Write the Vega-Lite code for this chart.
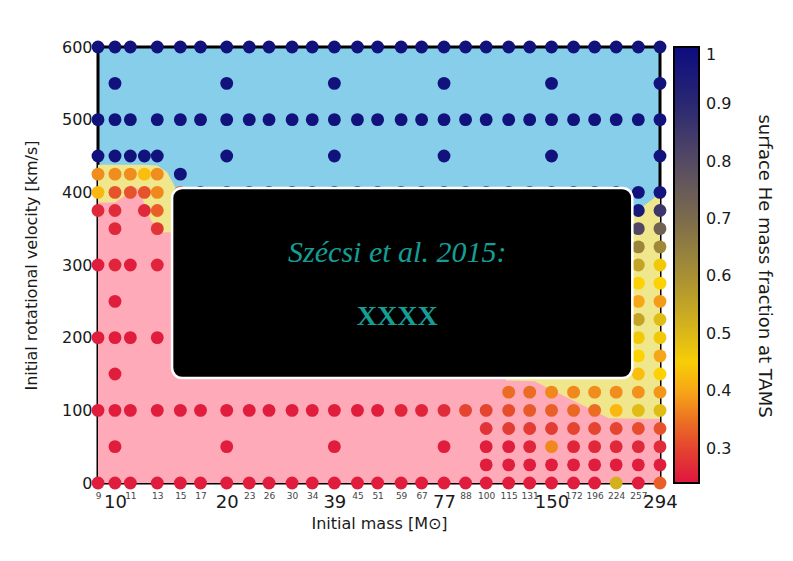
{
  "$schema": "https://vega.github.io/schema/vega-lite/v6.json",
  "width": 562,
  "height": 436,
  "autosize": {"type": "none"},
  "padding": {"left": 98, "top": 47, "right": 133, "bottom": 78},
  "background": "white",
  "config": {
    "font": "DejaVu Sans",
    "view": {"fill": "#87ceeb", "stroke": "black", "strokeWidth": 3},
    "axis": {"domain": false, "ticks": false, "grid": false, "labelColor": "#1a1a1a", "titleColor": "#1a1a1a", "titleFontWeight": "normal", "labelFont": "DejaVu Sans", "titleFont": "DejaVu Sans"},
    "legend": {"labelFont": "DejaVu Sans", "titleFont": "DejaVu Sans", "labelColor": "#1a1a1a", "titleColor": "#1a1a1a"}
  },
  "datasets": {
    "yellow": [
      {"region": "left", "m": 9, "v": 438}, {"region": "left", "m": 12, "v": 438}, {"region": "left", "m": 13, "v": 437},
      {"region": "left", "m": 13.8, "v": 428}, {"region": "left", "m": 14.3, "v": 414}, {"region": "left", "m": 14.6, "v": 405},
      {"region": "left", "m": 15.5, "v": 380}, {"region": "left", "m": 16, "v": 330},
      {"region": "right", "m": 100, "v": 200}, {"region": "right", "m": 200, "v": 330}, {"region": "right", "m": 249, "v": 371}, {"region": "right", "m": 294, "v": 398}
    ],
    "pink": [
      {"m": 9, "v": 386}, {"m": 10, "v": 386}, {"m": 10.6, "v": 395}, {"m": 11, "v": 410}, {"m": 11.5, "v": 405},
      {"m": 12, "v": 385}, {"m": 12.5, "v": 362}, {"m": 13, "v": 350}, {"m": 13.5, "v": 345}, {"m": 14.2, "v": 345},
      {"m": 15, "v": 300}, {"m": 100, "v": 300}, {"m": 110, "v": 200}, {"m": 113, "v": 141}, {"m": 135, "v": 140},
      {"m": 214, "v": 89}, {"m": 294, "v": 88}
    ],
    "box": [{"m": 14.25, "m2": 247.6, "v": 406, "v2": 144.5}],
    "t1": [{"m": 57.6, "v": 316.5, "t": "Szécsi et al. 2015:"}],
    "t2": [{"m": 57.6, "v": 228.4, "t": "XXXX"}],
    "pts": [
      {"m": 9, "v": 600, "he": 0.98}, {"m": 10, "v": 600, "he": 0.98}, {"m": 11, "v": 600, "he": 0.98}, {"m": 13, "v": 600, "he": 0.98},
      {"m": 15, "v": 600, "he": 0.98}, {"m": 17, "v": 600, "he": 0.98}, {"m": 20, "v": 600, "he": 0.98}, {"m": 23, "v": 600, "he": 0.98},
      {"m": 26, "v": 600, "he": 0.98}, {"m": 30, "v": 600, "he": 0.98}, {"m": 34, "v": 600, "he": 0.98}, {"m": 39, "v": 600, "he": 0.98},
      {"m": 45, "v": 600, "he": 0.98}, {"m": 51, "v": 600, "he": 0.98}, {"m": 59, "v": 600, "he": 0.98}, {"m": 67, "v": 600, "he": 0.98},
      {"m": 77, "v": 600, "he": 0.98}, {"m": 88, "v": 600, "he": 0.98}, {"m": 100, "v": 600, "he": 0.98}, {"m": 115, "v": 600, "he": 0.98},
      {"m": 131, "v": 600, "he": 0.98}, {"m": 150, "v": 600, "he": 0.98}, {"m": 172, "v": 600, "he": 0.98}, {"m": 196, "v": 600, "he": 0.98},
      {"m": 224, "v": 600, "he": 0.98}, {"m": 257, "v": 600, "he": 0.98}, {"m": 294, "v": 600, "he": 0.98},

      {"m": 10, "v": 550, "he": 0.98}, {"m": 20, "v": 550, "he": 0.98}, {"m": 39, "v": 550, "he": 0.98}, {"m": 77, "v": 550, "he": 0.98},
      {"m": 150, "v": 550, "he": 0.98}, {"m": 294, "v": 550, "he": 0.98},

      {"m": 9, "v": 500, "he": 0.98}, {"m": 10, "v": 500, "he": 0.98}, {"m": 11, "v": 500, "he": 0.98}, {"m": 13, "v": 500, "he": 0.98},
      {"m": 15, "v": 500, "he": 0.98}, {"m": 17, "v": 500, "he": 0.98}, {"m": 20, "v": 500, "he": 0.98}, {"m": 23, "v": 500, "he": 0.98},
      {"m": 26, "v": 500, "he": 0.98}, {"m": 30, "v": 500, "he": 0.98}, {"m": 34, "v": 500, "he": 0.98}, {"m": 39, "v": 500, "he": 0.98},
      {"m": 45, "v": 500, "he": 0.98}, {"m": 51, "v": 500, "he": 0.98}, {"m": 59, "v": 500, "he": 0.98}, {"m": 67, "v": 500, "he": 0.98},
      {"m": 77, "v": 500, "he": 0.98}, {"m": 88, "v": 500, "he": 0.98}, {"m": 100, "v": 500, "he": 0.98}, {"m": 115, "v": 500, "he": 0.98},
      {"m": 131, "v": 500, "he": 0.98}, {"m": 150, "v": 500, "he": 0.98}, {"m": 172, "v": 500, "he": 0.98}, {"m": 196, "v": 500, "he": 0.98},
      {"m": 224, "v": 500, "he": 0.98}, {"m": 257, "v": 500, "he": 0.98}, {"m": 294, "v": 500, "he": 0.98},

      {"m": 9, "v": 450, "he": 0.98}, {"m": 10, "v": 450, "he": 0.98}, {"m": 11, "v": 450, "he": 0.98}, {"m": 12, "v": 450, "he": 0.98},
      {"m": 13, "v": 450, "he": 0.98}, {"m": 20, "v": 450, "he": 0.98}, {"m": 39, "v": 450, "he": 0.98}, {"m": 77, "v": 450, "he": 0.98},
      {"m": 150, "v": 450, "he": 0.98}, {"m": 294, "v": 450, "he": 0.98},

      {"m": 9, "v": 425, "he": 0.375}, {"m": 10, "v": 425, "he": 0.375}, {"m": 11, "v": 425, "he": 0.375}, {"m": 12, "v": 425, "he": 0.42},
      {"m": 13, "v": 425, "he": 0.375}, {"m": 15, "v": 425, "he": 0.98},

      {"m": 9, "v": 400, "he": 0.415}, {"m": 10, "v": 400, "he": 0.315}, {"m": 11, "v": 400, "he": 0.315}, {"m": 12, "v": 400, "he": 0.315},
      {"m": 13, "v": 400, "he": 0.37}, {"m": 15, "v": 400, "he": 0.33}, {"m": 17, "v": 400, "he": 0.98}, {"m": 20, "v": 400, "he": 0.98},
      {"m": 23, "v": 400, "he": 0.98}, {"m": 26, "v": 400, "he": 0.98}, {"m": 30, "v": 400, "he": 0.98}, {"m": 34, "v": 400, "he": 0.98},
      {"m": 39, "v": 400, "he": 0.98}, {"m": 45, "v": 400, "he": 0.98}, {"m": 51, "v": 400, "he": 0.98}, {"m": 59, "v": 400, "he": 0.98},
      {"m": 67, "v": 400, "he": 0.98}, {"m": 77, "v": 400, "he": 0.98}, {"m": 88, "v": 400, "he": 0.98}, {"m": 100, "v": 400, "he": 0.98},
      {"m": 115, "v": 400, "he": 0.98}, {"m": 131, "v": 400, "he": 0.98}, {"m": 150, "v": 400, "he": 0.98}, {"m": 172, "v": 400, "he": 0.98},
      {"m": 196, "v": 400, "he": 0.98}, {"m": 224, "v": 400, "he": 0.98}, {"m": 257, "v": 400, "he": 0.98}, {"m": 294, "v": 400, "he": 0.97},

      {"m": 9, "v": 375, "he": 0.265}, {"m": 10, "v": 375, "he": 0.27}, {"m": 12, "v": 375, "he": 0.265}, {"m": 13, "v": 375, "he": 0.33},
      {"m": 257, "v": 375, "he": 0.96}, {"m": 294, "v": 375, "he": 0.86},

      {"m": 10, "v": 350, "he": 0.265}, {"m": 13, "v": 350, "he": 0.28}, {"m": 257, "v": 350, "he": 0.81}, {"m": 294, "v": 350, "he": 0.73},

      {"m": 257, "v": 325, "he": 0.63}, {"m": 294, "v": 325, "he": 0.62},

      {"m": 9, "v": 300, "he": 0.25}, {"m": 10, "v": 300, "he": 0.26}, {"m": 11, "v": 300, "he": 0.25}, {"m": 13, "v": 300, "he": 0.26},
      {"m": 257, "v": 300, "he": 0.55}, {"m": 294, "v": 300, "he": 0.46},

      {"m": 257, "v": 275, "he": 0.44}, {"m": 294, "v": 275, "he": 0.44},

      {"m": 10, "v": 250, "he": 0.25}, {"m": 257, "v": 250, "he": 0.40}, {"m": 294, "v": 250, "he": 0.39},

      {"m": 257, "v": 225, "he": 0.55}, {"m": 294, "v": 225, "he": 0.49},

      {"m": 9, "v": 200, "he": 0.25}, {"m": 10, "v": 200, "he": 0.25}, {"m": 11, "v": 200, "he": 0.25}, {"m": 13, "v": 200, "he": 0.25},
      {"m": 257, "v": 200, "he": 0.46}, {"m": 294, "v": 200, "he": 0.46},

      {"m": 257, "v": 175, "he": 0.44}, {"m": 294, "v": 175, "he": 0.40},

      {"m": 10, "v": 150, "he": 0.25}, {"m": 257, "v": 150, "he": 0.42}, {"m": 294, "v": 150, "he": 0.44},

      {"m": 115, "v": 125, "he": 0.345}, {"m": 131, "v": 125, "he": 0.345}, {"m": 150, "v": 125, "he": 0.37}, {"m": 172, "v": 125, "he": 0.37},
      {"m": 196, "v": 125, "he": 0.375}, {"m": 224, "v": 125, "he": 0.375}, {"m": 257, "v": 125, "he": 0.38}, {"m": 294, "v": 125, "he": 0.385},

      {"m": 9, "v": 100, "he": 0.25}, {"m": 10, "v": 100, "he": 0.25}, {"m": 11, "v": 100, "he": 0.25}, {"m": 13, "v": 100, "he": 0.25},
      {"m": 15, "v": 100, "he": 0.25}, {"m": 17, "v": 100, "he": 0.25}, {"m": 20, "v": 100, "he": 0.25}, {"m": 23, "v": 100, "he": 0.25},
      {"m": 26, "v": 100, "he": 0.25}, {"m": 30, "v": 100, "he": 0.25}, {"m": 34, "v": 100, "he": 0.25}, {"m": 39, "v": 100, "he": 0.25},
      {"m": 45, "v": 100, "he": 0.25}, {"m": 51, "v": 100, "he": 0.25}, {"m": 59, "v": 100, "he": 0.26}, {"m": 67, "v": 100, "he": 0.26},
      {"m": 77, "v": 100, "he": 0.27}, {"m": 88, "v": 100, "he": 0.30}, {"m": 100, "v": 100, "he": 0.30}, {"m": 115, "v": 100, "he": 0.31},
      {"m": 131, "v": 100, "he": 0.325}, {"m": 150, "v": 100, "he": 0.33}, {"m": 172, "v": 100, "he": 0.34}, {"m": 196, "v": 100, "he": 0.345},
      {"m": 224, "v": 100, "he": 0.415}, {"m": 257, "v": 100, "he": 0.49}, {"m": 294, "v": 100, "he": 0.49},

      {"m": 100, "v": 75, "he": 0.28}, {"m": 115, "v": 75, "he": 0.29}, {"m": 131, "v": 75, "he": 0.29}, {"m": 150, "v": 75, "he": 0.29},
      {"m": 172, "v": 75, "he": 0.30}, {"m": 196, "v": 75, "he": 0.30}, {"m": 224, "v": 75, "he": 0.30}, {"m": 257, "v": 75, "he": 0.31},
      {"m": 294, "v": 75, "he": 0.315},

      {"m": 10, "v": 50, "he": 0.25}, {"m": 20, "v": 50, "he": 0.25}, {"m": 39, "v": 50, "he": 0.25}, {"m": 77, "v": 50, "he": 0.25},
      {"m": 100, "v": 50, "he": 0.25}, {"m": 115, "v": 50, "he": 0.25}, {"m": 131, "v": 50, "he": 0.26}, {"m": 150, "v": 50, "he": 0.37},
      {"m": 172, "v": 50, "he": 0.26}, {"m": 196, "v": 50, "he": 0.265}, {"m": 224, "v": 50, "he": 0.265}, {"m": 257, "v": 50, "he": 0.265},
      {"m": 294, "v": 50, "he": 0.27},

      {"m": 100, "v": 25, "he": 0.25}, {"m": 115, "v": 25, "he": 0.25}, {"m": 131, "v": 25, "he": 0.25}, {"m": 150, "v": 25, "he": 0.25},
      {"m": 172, "v": 25, "he": 0.25}, {"m": 196, "v": 25, "he": 0.25}, {"m": 224, "v": 25, "he": 0.25}, {"m": 257, "v": 25, "he": 0.25},
      {"m": 294, "v": 25, "he": 0.25},

      {"m": 9, "v": 0, "he": 0.25}, {"m": 10, "v": 0, "he": 0.25}, {"m": 11, "v": 0, "he": 0.25}, {"m": 13, "v": 0, "he": 0.25},
      {"m": 15, "v": 0, "he": 0.25}, {"m": 17, "v": 0, "he": 0.25}, {"m": 20, "v": 0, "he": 0.25}, {"m": 23, "v": 0, "he": 0.25},
      {"m": 26, "v": 0, "he": 0.25}, {"m": 30, "v": 0, "he": 0.25}, {"m": 34, "v": 0, "he": 0.25}, {"m": 39, "v": 0, "he": 0.25},
      {"m": 45, "v": 0, "he": 0.25}, {"m": 51, "v": 0, "he": 0.25}, {"m": 59, "v": 0, "he": 0.25}, {"m": 67, "v": 0, "he": 0.25},
      {"m": 77, "v": 0, "he": 0.25}, {"m": 88, "v": 0, "he": 0.25}, {"m": 100, "v": 0, "he": 0.25}, {"m": 115, "v": 0, "he": 0.25},
      {"m": 131, "v": 0, "he": 0.25}, {"m": 150, "v": 0, "he": 0.25}, {"m": 172, "v": 0, "he": 0.25}, {"m": 196, "v": 0, "he": 0.25},
      {"m": 224, "v": 0, "he": 0.52}, {"m": 257, "v": 0, "he": 0.25}, {"m": 294, "v": 0, "he": 0.33}
    ]
  },
  "encoding": {
    "x": {
      "field": "m", "type": "quantitative",
      "scale": {"type": "log", "domain": [9, 294], "nice": false},
      "axis": {
        "title": "Initial mass [M⊙]",
        "values": [9, 10, 11, 13, 15, 17, 20, 23, 26, 30, 34, 39, 45, 51, 59, 67, 77, 88, 100, 115, 131, 150, 172, 196, 224, 257, 294],
        "labelExpr": "format(datum.value, 'd')",
        "labelFontSize": {"condition": {"test": "indexof([10,20,39,77,150,294], datum.value) >= 0", "value": 18}, "value": 9},
        "labelPadding": {"condition": {"test": "indexof([10,20,39,77,150,294], datum.value) >= 0", "value": 10}, "value": 8},
        "labelColor": {"condition": {"test": "indexof([10,20,39,77,150,294], datum.value) >= 0", "value": "#1a1a1a"}, "value": "#444444"},
        "labelOverlap": false,
        "labelFlush": false,
        "titleFontSize": 16,
        "titlePadding": 4
      }
    },
    "y": {
      "field": "v", "type": "quantitative",
      "scale": {"domain": [0, 600], "nice": false},
      "axis": {
        "title": "Initial rotational velocity [km/s]",
        "values": [0, 100, 200, 300, 400, 500, 600],
        "labelFontSize": 16,
        "labelPadding": 6,
        "titleFontSize": 16,
        "titlePadding": 22
      }
    }
  },
  "layer": [
    {
      "data": {"name": "yellow"},
      "mark": {"type": "area", "color": "#f0e68c", "opacity": 1},
      "encoding": {"detail": {"field": "region"}}
    },
    {
      "data": {"name": "pink"},
      "mark": {"type": "area", "color": "#ffaab9", "opacity": 1},
      "encoding": {}
    },
    {
      "data": {"name": "pts"},
      "mark": {"type": "point", "filled": true, "size": 165, "opacity": 1, "strokeWidth": 0},
      "encoding": {
        "color": {
          "field": "he", "type": "quantitative",
          "scale": {
            "domain": [0.24, 0.27, 0.30, 0.34, 0.38, 0.41, 0.435, 0.5, 0.6, 0.7, 0.8, 0.9, 1.0],
            "range": ["#e0163e", "#e02c3a", "#e44430", "#ea6824", "#f2921c", "#f9b014", "#ffd400", "#dcb818", "#a89034", "#7c6c4c", "#554a64", "#2a2872", "#0c0c80"],
            "interpolate": "rgb"
          },
          "legend": {
            "title": "surface He mass fraction at TAMS",
            "titleOrient": "right",
            "titleAnchor": "middle",
            "titleFontSize": 18,
            "titleFontWeight": "normal",
            "titlePadding": 24,
            "titleLimit": 600,
            "labelFontSize": 16,
            "labelOffset": 7,
            "labelExpr": "datum.value >= 0.999 ? '1' : format(datum.value, '.1f')",
            "labelOverlap": false,
            "gradientLength": 436,
            "gradientThickness": 25,
            "gradientStrokeColor": "black",
            "gradientStrokeWidth": 2,
            "values": [0.3, 0.4, 0.5, 0.6, 0.7, 0.8, 0.9, 1],
            "offset": 14,
            "padding": 0
          }
        }
      }
    },
    {
      "data": {"name": "box"},
      "mark": {"type": "rect", "fill": "black", "stroke": "white", "strokeWidth": 2.5, "cornerRadius": 10},
      "encoding": {"x2": {"field": "m2"}, "y2": {"field": "v2"}}
    },
    {
      "data": {"name": "t1"},
      "mark": {"type": "text", "font": "Liberation Serif", "fontStyle": "italic", "fontSize": 30, "color": "#159e95", "align": "center", "baseline": "middle"},
      "encoding": {"text": {"field": "t"}}
    },
    {
      "data": {"name": "t2"},
      "mark": {"type": "text", "font": "Liberation Serif", "fontWeight": "bold", "fontSize": 28, "color": "#159e95", "align": "center", "baseline": "middle"},
      "encoding": {"text": {"field": "t"}}
    }
  ]
}
